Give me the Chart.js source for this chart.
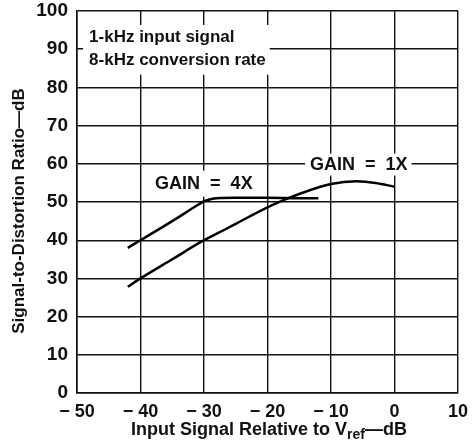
<!DOCTYPE html>
<html>
<head>
<meta charset="utf-8">
<script src="https://cdn.jsdelivr.net/npm/chart.js@4/dist/chart.umd.min.js"></script>
<style>
  html, body { margin: 0; padding: 0; background: #fff; }
  #wrap { width: 473px; height: 442px; position: relative; }
</style>
</head>
<body>
<div id="wrap"><canvas id="chart" width="473" height="442"></canvas></div>
<script>
// Data
const gain4xInput = [-42, -40, -35, -31, -30, -29, -28, -25, -20, -15, -12];
const gain4xSdr   = [38, 40, 45, 49.2, 50.2, 50.7, 51, 51.1, 51.1, 51, 51];
const gain1xInput = [-42, -40, -35, -30, -27.5, -25, -20, -17, -15, -10, -6, -3, 0];
const gain1xSdr   = [27.8, 30, 35, 40, 42.1, 44.3, 48.6, 50.8, 52.1, 54.7, 55.4, 55, 54];

const xTicks = [-50, -40, -30, -20, -10, 0, 10];
const yTicks = [0, 10, 20, 30, 40, 50, 60, 70, 80, 90, 100];

const FONT = '"Liberation Sans", Arial, sans-serif';

function toPoints(xs, ys) {
    return xs.map((x, i) => ({ x: x, y: ys[i] }));
}

function fmtX(v) {
    return v < 0 ? '\u2212 ' + Math.abs(v) : String(v);
}

// white-backed labels + axis titles
const labelsPlugin = {
    id: 'labels',
    beforeDatasetsDraw(chart) {
        const c = chart.ctx;
        const xs = chart.scales.x, ys = chart.scales.y;
        c.save();
        c.textBaseline = 'middle';
        c.textAlign = 'left';

        // note box
        c.font = 'bold 17px ' + FONT;
        const nx = xs.getPixelForValue(-48.1);
        const n1 = ys.getPixelForValue(93.2);
        const n2 = ys.getPixelForValue(87);
        const w1 = c.measureText('1-kHz input signal').width;
        const w2 = c.measureText('8-kHz conversion rate').width;
        c.fillStyle = '#fff';
        c.fillRect(nx - 6, n1 - 12, Math.max(w1, w2) + 10, n2 - n1 + 26);
        c.fillStyle = '#111';
        c.fillText('1-kHz input signal', nx, n1);
        c.fillText('8-kHz conversion rate', nx, n2);

        // gain labels
        c.font = 'bold 18px ' + FONT;
        const gains = [
            { text: 'GAIN  =  4X', x: -37.7, y: 54.8, padY: 13 },
            { text: 'GAIN  =  1X', x: -13.3, y: 59.8, padY: 11 }
        ];
        gains.forEach(g => {
            const px = xs.getPixelForValue(g.x);
            const py = ys.getPixelForValue(g.y);
            const w = c.measureText(g.text).width;
            c.fillStyle = '#fff';
            c.fillRect(px - 5, py - g.padY, w + 9, g.padY * 2);
            c.fillStyle = '#111';
            c.fillText(g.text, px, py);
        });
        c.restore();
    },
    afterDraw(chart) {
        const c = chart.ctx;
        c.save();
        c.fillStyle = '#111';
        c.textBaseline = 'middle';

        // y title
        c.font = 'bold 17px ' + FONT;
        c.translate(19, 211);
        c.rotate(-Math.PI / 2);
        c.textAlign = 'center';
        c.fillText('Signal-to-Distortion Ratio\u2014dB', 0, 0);
        c.setTransform(1, 0, 0, 1, 0, 0);

        // x title with subscript
        const parts = [
            { t: 'Input Signal Relative to V', f: 'bold 18px ' + FONT, dy: 0 },
            { t: 'ref', f: 'bold 14px ' + FONT, dy: 5 },
            { t: '\u2014dB', f: 'bold 18px ' + FONT, dy: 0 }
        ];
        let total = 0;
        parts.forEach(p => { c.font = p.f; total += c.measureText(p.t).width; });
        let x = 269 - total / 2;
        const y = 430;
        c.textAlign = 'left';
        parts.forEach(p => {
            c.font = p.f;
            c.fillText(p.t, x, y + p.dy);
            x += c.measureText(p.t).width;
        });
        c.restore();
    }
};

const ctx = document.getElementById('chart').getContext('2d');
const chart = new Chart(ctx, {
    type: 'line',
    data: {
        datasets: [
            {
                label: 'GAIN = 4X',
                data: toPoints(gain4xInput, gain4xSdr),
                borderColor: '#000',
                borderWidth: 2.5,
                pointRadius: 0,
                cubicInterpolationMode: 'monotone',
                fill: false
            },
            {
                label: 'GAIN = 1X',
                data: toPoints(gain1xInput, gain1xSdr),
                borderColor: '#000',
                borderWidth: 2.5,
                pointRadius: 0,
                cubicInterpolationMode: 'monotone',
                fill: false
            }
        ]
    },
    options: {
        responsive: false,
        animation: false,
        layout: { padding: { left: 0, right: 15, top: 11, bottom: 0 } },
        plugins: {
            legend: { display: false },
            tooltip: { enabled: false }
        },
        scales: {
            x: {
                type: 'linear',
                min: -50,
                max: 10,
                afterBuildTicks: s => { s.ticks = xTicks.map(v => ({ value: v })); },
                afterFit: s => { s.height = 49; s.paddingLeft = 0; s.paddingRight = 0; },
                grid: { color: '#111', lineWidth: 1.4, drawTicks: false },
                border: { color: '#111', width: 1.6 },
                ticks: {
                    color: '#111',
                    padding: 8,
                    maxRotation: 0,
                    font: { family: FONT, size: 18, weight: 'bold' },
                    callback: v => fmtX(v)
                }
            },
            y: {
                min: 0,
                max: 100,
                afterBuildTicks: s => { s.ticks = yTicks.map(v => ({ value: v })); },
                afterFit: s => { s.width = 77; s.paddingTop = 0; s.paddingBottom = 0; },
                grid: { color: '#111', lineWidth: 1.4, drawTicks: false },
                border: { color: '#111', width: 1.6 },
                ticks: {
                    color: '#111',
                    padding: 9,
                    font: { family: FONT, size: 19, weight: 'bold' }
                }
            }
        }
    },
    plugins: [labelsPlugin]
});
</script>
</body>
</html>
